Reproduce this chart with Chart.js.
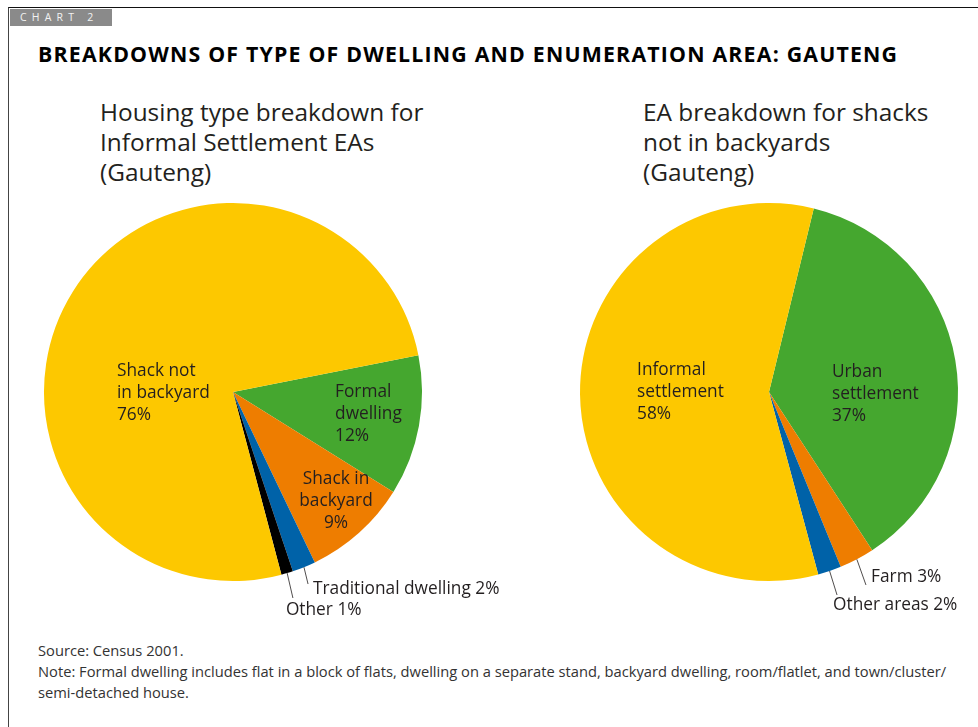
<!DOCTYPE html>
<html>
<head>
<meta charset="utf-8">
<script src="https://cdn.jsdelivr.net/npm/chart.js@4.4.1/dist/chart.umd.min.js"></script>
<style>
  html, body { margin: 0; padding: 0; background: #fff; }
  body { width: 978px; height: 727px; position: relative; overflow: hidden; font-family: "Open Sans", "Noto Sans", sans-serif; color: #231f20; }
  .frame { position: absolute; left: 8px; top: 7px; right: 0; bottom: 0; border-top: 1.5px solid #111; border-left: 1.5px solid #444; }
  .tag { position: absolute; left: 10px; top: 9px; width: 102px; height: 17px; background: #8a8a8a; color: #f2f2f2; font-size: 10.5px; letter-spacing: 5.2px; line-height: 17px; padding-left: 10px; box-sizing: border-box; }
  .title { position: absolute; left: 38px; top: 39px; font-size: 21.3px; font-weight: 700; color: #000; letter-spacing: 1.2px; white-space: nowrap; }
  .sub { position: absolute; top: 97px; font-size: 24.4px; line-height: 30px; color: #231f20; white-space: nowrap; }
  .note { position: absolute; left: 38px; top: 640px; font-size: 14.7px; line-height: 21px; color: #333; white-space: nowrap; }
  canvas { position: absolute; }
</style>
</head>
<body>
<div class="frame"></div>
<div class="tag">CHART 2</div>
<div class="title">BREAKDOWNS OF TYPE OF DWELLING AND ENUMERATION AREA: GAUTENG</div>
<div class="sub" style="left:100px">Housing type breakdown for<br>Informal Settlement EAs<br>(Gauteng)</div>
<div class="sub" style="left:643px">EA breakdown for shacks<br>not in backyards<br>(Gauteng)</div>
<canvas id="leftPie" style="left:0;top:180px" width="500" height="460"></canvas>
<canvas id="rightPie" style="left:500px;top:180px" width="478" height="460"></canvas>
<div class="note">Source: Census 2001.<br>Note: Formal dwelling includes flat in a block of flats, dwelling on a separate stand, backyard dwelling, room/flatlet, and town/cluster/<br>semi-detached house.</div>

<script>
'use strict';

// data
const leftCategories  = ['Formal dwelling', 'Shack in backyard', 'Traditional dwelling', 'Other', 'Shack not in backyard'];
const leftValues      = [12, 9, 2, 1, 76];
const rightCategories = ['Urban settlement', 'Farm', 'Other areas', 'Informal settlement'];
const rightValues     = [37, 3, 2, 58];

const YELLOW = '#fdc800', GREEN = '#45a72f', ORANGE = '#ee7d00', BLUE = '#0062a8', BLACK = '#000000';

// slice label drawing: pos / leader given as fractions of the pie radius from its centre
const sliceLabels = {
  id: 'sliceLabels',
  afterDatasetsDraw(chart, args, opts) {
    const ctx = chart.ctx;
    const arcs = chart.getDatasetMeta(0).data;
    const values = chart.data.datasets[0].data;
    ctx.save();
    ctx.font = '17.3px "Open Sans"';
    ctx.fillStyle = '#231f20';
    ctx.textBaseline = 'middle';
    opts.labels.forEach((lab, i) => {
      const arc = arcs[i];
      const r = arc.outerRadius;
      const x = arc.x + lab.pos[0] * r;
      const y = arc.y + lab.pos[1] * r;
      let lines = lab.lines.slice();
      if (lab.inline) lines[lines.length - 1] += ' ' + values[i] + '%';
      else lines.push(values[i] + '%');
      ctx.textAlign = lab.align || 'left';
      lines.forEach((t, k) => ctx.fillText(t, x, y + k * 22));
      if (lab.leader) {
        const mid = (arc.startAngle + arc.endAngle) / 2;
        ctx.beginPath();
        ctx.strokeStyle = '#231f20';
        ctx.lineWidth = 0.8;
        ctx.moveTo(arc.x + Math.cos(mid) * r, arc.y + Math.sin(mid) * r);
        ctx.lineTo(arc.x + lab.leader[0] * r, arc.y + lab.leader[1] * r);
        ctx.stroke();
      }
    });
    ctx.restore();
  },
};

function makePie(id, categories, values, colors, rotation, padding, labels) {
  new Chart(document.getElementById(id), {
    type: 'pie',
    data: {
      labels: categories,
      datasets: [{ data: values, backgroundColor: colors, borderWidth: 0 }],
    },
    options: {
      responsive: false,
      animation: false,
      rotation: rotation,
      layout: { padding: padding },
      plugins: {
        legend: { display: false },
        tooltip: { enabled: false },
        sliceLabels: { labels: labels },
      },
    },
    plugins: [sliceLabels],
  });
}

makePie('leftPie', leftCategories, leftValues, [GREEN, ORANGE, BLUE, BLACK, YELLOW], 78.75,
  { left: 44, right: 78, top: 23, bottom: 59 },
  [
    { lines: ['Formal', 'dwelling'], pos: [0.54, 0.0] },
    { lines: ['Shack in', 'backyard'], pos: [0.545, 0.46], align: 'center' },
    { lines: ['Traditional dwelling'], pos: [0.423, 1.042], inline: true, leader: [0.397, 1.016] },
    { lines: ['Other'], pos: [0.28, 1.153], inline: true, leader: [0.317, 1.09] },
    { lines: ['Shack not', 'in backyard'], pos: [-0.614, -0.111] },
  ]);

makePie('rightPie', rightCategories, rightValues, [GREEN, ORANGE, BLUE, YELLOW], 13.7,
  { left: 80, right: 20, top: 23, bottom: 59 },
  [
    { lines: ['Urban', 'settlement'], pos: [0.333, -0.106] },
    { lines: ['Farm'], pos: [0.54, 0.979], inline: true, leader: [0.513, 1.021] },
    { lines: ['Other areas'], pos: [0.339, 1.127], inline: true, leader: [0.36, 1.074] },
    { lines: ['Informal', 'settlement'], pos: [-0.698, -0.116] },
  ]);
</script>
</body>
</html>
